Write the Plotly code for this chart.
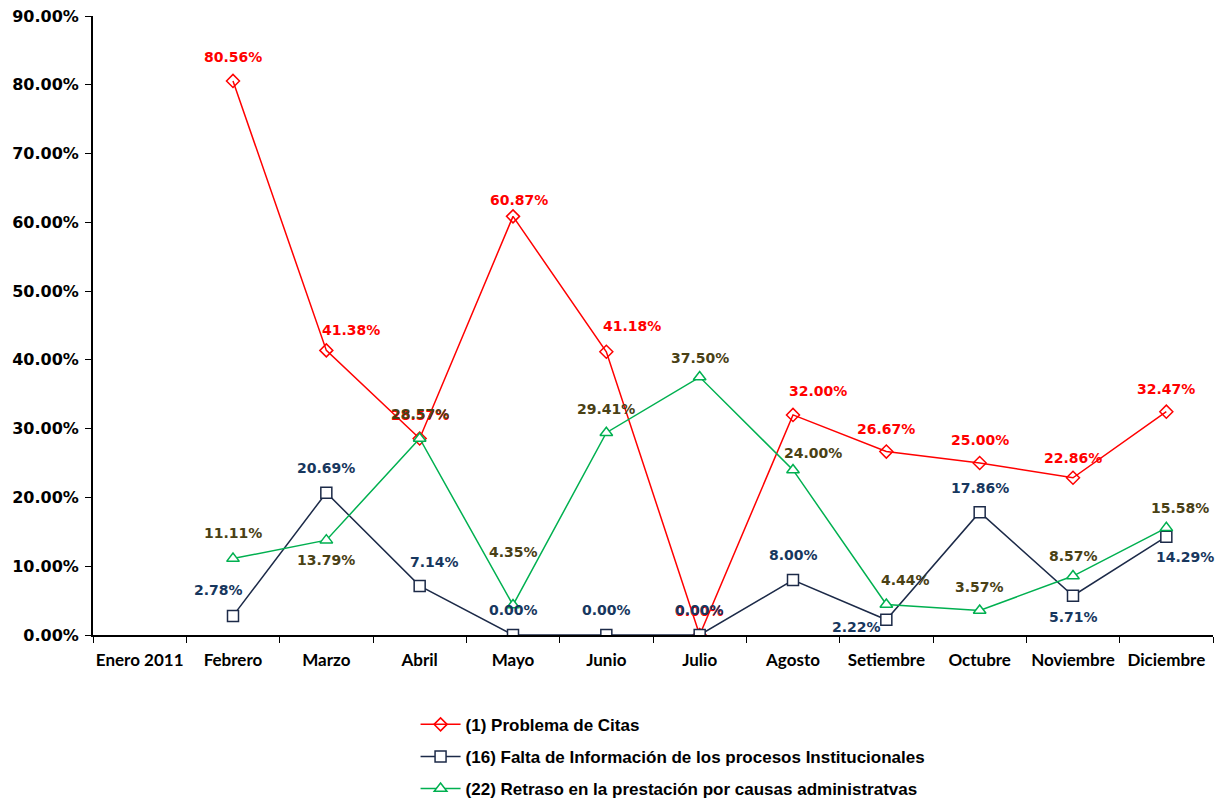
import plotly.graph_objects as go

months = ["Enero 2011", "Febrero", "Marzo", "Abril", "Mayo", "Junio", "Julio",
          "Agosto", "Setiembre", "Octubre", "Noviembre", "Diciembre"]

citas = [None, 0.8056, 0.4138, 0.2857, 0.6087, 0.4118, 0.0, 0.32, 0.2667, 0.25, 0.2286, 0.3247]
falta_info = [None, 0.0278, 0.2069, 0.0714, 0.0, 0.0, 0.0, 0.08, 0.0222, 0.1786, 0.0571, 0.1429]
retraso = [None, 0.1111, 0.1379, 0.2857, 0.0435, 0.2941, 0.375, 0.24, 0.0444, 0.0357, 0.0857, 0.1558]

names = ["(1) Problema de Citas",
         "(16) Falta de Información de los procesos Institucionales",
         "(22) Retraso en la prestación por causas administratvas"]

# label offsets (pixels) per point: styling only
off_citas = [None, (0, 24), (25, 20), (0, 24), (6, 16), (26, 26), (0, 24), (25, 24), (0, 23), (0, 23), (0, 20), (0, 23)]
off_info = [None, (-15, 26), (0, 25), (15, 24), (0, 25), (0, 25), (0, 25), (0, 25), (-30, -7), (0, 24), (0, -21), (19, -20)]
off_retraso = [None, (0, 26), (0, -20), (0, 25), (0, 53), (0, 24), (0, 19), (20, 17), (19, 24), (0, 23), (0, 20), (14, 20)]

series = [
    (names[0], citas, "#FF0000", "diamond-open", 10, "#FF0000", off_citas),
    (names[1], falta_info, "#1C2A48", "square", 11, "#17375E", off_info),
    (names[2], retraso, "#00B050", "triangle-up", 11, "#4A4115", off_retraso),
]

fig = go.Figure()
ann_by_series = []
for i, (nm, vals, col, sym, sz, lcol, offs) in enumerate(series):
    if sym == "diamond-open":
        marker = dict(symbol=sym, size=sz, color=col, line=dict(color=col, width=1.5))
    else:
        marker = dict(symbol=sym, size=sz, color="white", line=dict(color=col, width=1.5))
    fig.add_trace(go.Scatter(
        x=months, y=vals, name=nm, mode="lines+markers",
        line=dict(color=col, width=1.5), marker=marker,
        legendgroup=f"g{i}", connectgaps=False,
    ))
    anns = []
    for m, v, o in zip(months, vals, offs):
        if v is None:
            continue
        anns.append(dict(
            x=m, y=v, xref="x", yref="y", text=f"{v*100:.2f}%", showarrow=False,
            xshift=o[0], yshift=o[1],
            font=dict(family="DejaVu Sans", size=14, color=lcol, weight="bold"),
        ))
    ann_by_series.append(anns)

annotations = ann_by_series[0] + ann_by_series[2] + ann_by_series[1]

fig.update_layout(
    width=1215, height=794,
    margin=dict(l=85, r=10, t=8, b=167, autoexpand=False),
    plot_bgcolor="white", paper_bgcolor="white",
    showlegend=True,
    legend=dict(x=0.288, y=-0.116, xanchor="left", yanchor="top",
                font=dict(family="Liberation Sans Narrow, Liberation Sans", size=17, color="black", weight="bold"),
                tracegroupgap=7, itemwidth=40, bgcolor="rgba(0,0,0,0)"),
    annotations=annotations,
    xaxis=dict(type="category", categoryorder="array", categoryarray=months,
               range=[-0.5, len(months) - 0.5],
               showline=True, linecolor="black", linewidth=2,
               ticks="outside", tickson="boundaries", ticklen=6, tickcolor="black",
               showgrid=False, zeroline=False, automargin=False, tickangle=0,
               ticklabelstandoff=9,
               tickfont=dict(family="Lato", size=17, color="black", weight="bold")),
    yaxis=dict(range=[0, 0.9], dtick=0.1, tickformat=".2%",
               showline=True, linecolor="black", linewidth=2,
               ticks="outside", ticklen=6, tickcolor="black",
               showgrid=False, zeroline=False, automargin=False,
               ticklabeloverflow="allow", ticklabelstandoff=3,
               tickfont=dict(family="DejaVu Sans", size=16, color="black", weight="bold")),
)

fig.write_html("out.html")
